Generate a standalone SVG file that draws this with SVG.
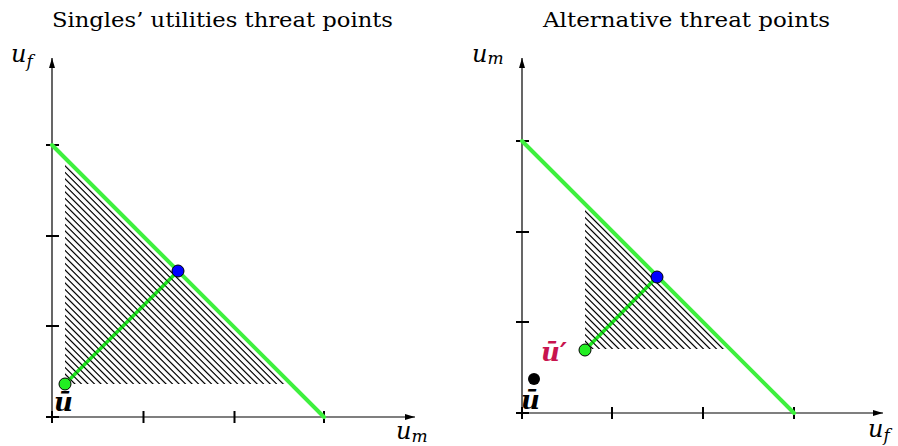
<svg xmlns="http://www.w3.org/2000/svg" width="898" height="446" viewBox="0 0 898 446">
<style>
.title{font-family:'DejaVu Serif','Liberation Serif',serif;font-size:20px;fill:#000}
.math{font-family:'DejaVu Serif','Liberation Serif',serif;font-style:italic;fill:#000}
.bold{font-family:'DejaVu Serif','Liberation Serif',serif;font-style:italic;font-weight:bold}
.axis{stroke:#000;stroke-width:1.2;fill:none}
.tick{stroke:#000;stroke-width:2;fill:none}
.front{stroke:#3ef03e;stroke-width:4;fill:none;stroke-linecap:round}
.path{stroke:#22ee22;stroke-width:3.5;fill:none}
.gdot{fill:#22ee22;stroke:#000;stroke-width:1}
.bdot{fill:#0000ff;stroke:#000;stroke-width:1}
</style>
<defs>
<marker id="arr" markerUnits="userSpaceOnUse" markerWidth="11" markerHeight="8" refX="10" refY="4" orient="auto">
<path d="M0,1 L10,4 L0,7 z" fill="#000"/>
</marker>
<pattern id="hatch" patternUnits="userSpaceOnUse" width="4.6" height="10" patternTransform="rotate(-45)">
<line x1="2.3" y1="0" x2="2.3" y2="10" stroke="#000" stroke-width="1"/>
</pattern>
</defs>

<text class="title" x="52" y="27" textLength="341" lengthAdjust="spacingAndGlyphs">Singles’ utilities threat points</text>
<text class="title" x="543" y="27" textLength="287" lengthAdjust="spacingAndGlyphs">Alternative threat points</text>

<g id="left-panel">
<g id="left-axes">
<line class="axis" x1="52" y1="417" x2="52" y2="58" marker-end="url(#arr)"/>
<line class="axis" x1="52" y1="417" x2="415" y2="417" marker-end="url(#arr)"/>
<path class="tick" d="M46,145H59M46,236H59M46,326H59M46,417H59M52,411V423M143.5,411V423M234.5,411V423M324,411V423"/>
<text class="math" x="11" y="62" style="font-size:24px">u<tspan style="font-size:17px" dy="5">f</tspan></text>
<text class="math" x="396" y="439" style="font-size:24px">u<tspan style="font-size:17px" dy="3">m</tspan></text>
</g>
<polygon id="left-region" points="65,163 65,384 286,384" fill="url(#hatch)"/>
<line id="left-frontier" class="front" x1="52" y1="145" x2="324" y2="417"/>
<line id="left-path" class="path" x1="65" y1="384" x2="178" y2="271"/>
<polygon points="65,163 65,384 286,384" fill="url(#hatch)" opacity="0.6"/>
<g id="left-threat"><circle class="gdot" cx="65" cy="384" r="6"/><text class="bold" x="54" y="411" style="font-size:26px">ū</text></g>
<g id="left-solution"><circle class="bdot" cx="178" cy="271" r="6"/></g>
</g>

<g id="right-panel">
<g id="right-axes">
<line class="axis" x1="522" y1="413" x2="522" y2="58" marker-end="url(#arr)"/>
<line class="axis" x1="522" y1="413" x2="883" y2="413" marker-end="url(#arr)"/>
<path class="tick" d="M516,141H529M516,232H529M516,322H529M516,413H529M522,407V419M612,407V419M703,407V419M794,407V419"/>
<text class="math" x="472" y="62" style="font-size:24px">u<tspan style="font-size:17px" dy="2">m</tspan></text>
<text class="math" x="868" y="437" style="font-size:24px">u<tspan style="font-size:17px" dy="4">f</tspan></text>
</g>
<polygon id="right-region" points="585,206 585,349 728,349" fill="url(#hatch)"/>
<line id="right-frontier" class="front" x1="522" y1="141" x2="794" y2="413"/>
<line id="right-path" class="path" x1="585" y1="350" x2="657" y2="277"/>
<polygon points="585,206 585,349 728,349" fill="url(#hatch)" opacity="0.6"/>
<g id="right-old-threat"><circle cx="534" cy="379" r="6" fill="#000"/><text class="bold" x="521" y="409" style="font-size:26px">ū</text></g>
<g id="right-threat"><circle class="gdot" cx="585" cy="350" r="6"/><text class="bold" x="541" y="361" style="font-size:26px" fill="#c8144e">ū′</text></g>
<g id="right-solution"><circle class="bdot" cx="657" cy="277" r="6"/></g>
</g>
</svg>
